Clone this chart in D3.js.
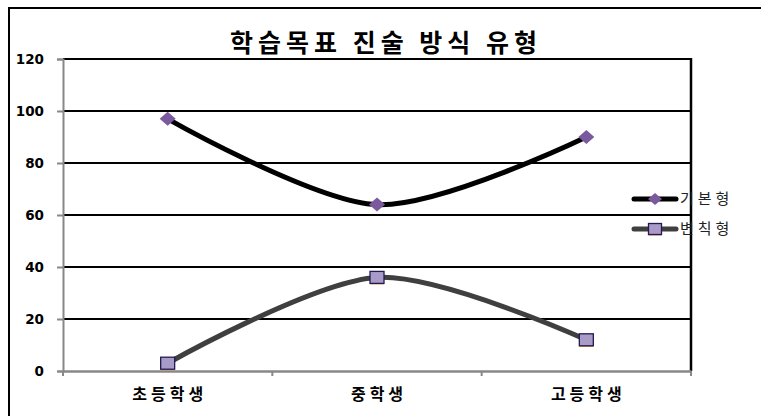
<!DOCTYPE html>
<html>
<head>
<meta charset="utf-8">
<script src="https://cdn.jsdelivr.net/npm/d3@7"></script>
<style>
  body { margin: 0; background: #fff; }
</style>
</head>
<body>
<script>
// chart data
var categories = ["초등학생", "중학생", "고등학생"]
var seriesNames = ["기본형", "변칙형"]
var basicValues = [97, 64, 90]
var irregularValues = [3, 36, 12]
var yTicks = [0, 20, 40, 60, 80, 100, 120]

var w = 761
var h = 416
// plot area
var plotLeft = 63, plotRight = 691, plotTop = 59, plotBottom = 371

var svg = d3.select("body")
    .append("svg")
    .attr("width", w)
    .attr("height", h)

// outer frame (only top and left visible)
svg.append("path")
    .attr("d", "M9," + h + "V8H" + w)
    .attr("fill", "none")
    .attr("stroke", "#000")
    .attr("stroke-width", 2)

var xBand = d3.scaleBand()
    .domain(categories)
    .range([plotLeft, plotRight])
var x = function(d) { return xBand(d) + xBand.bandwidth() / 2 }

var y = d3.scaleLinear()
    .domain([0, 120])
    .range([plotBottom, plotTop])

// gridlines
svg.selectAll("line.grid")
    .data(yTicks.filter(function(d) { return d > 0 }))
    .enter()
    .append("line")
    .attr("class", "grid")
    .attr("x1", plotLeft)
    .attr("x2", plotRight)
    .attr("y1", function(d) { return y(d) })
    .attr("y2", function(d) { return y(d) })
    .attr("stroke", "#000")
    .attr("stroke-width", 2)

// right border of plot
svg.append("line")
    .attr("x1", plotRight).attr("x2", plotRight)
    .attr("y1", plotTop - 1).attr("y2", plotBottom)
    .attr("stroke", "#000")
    .attr("stroke-width", 2.5)

// y axis
var yAxis = d3.axisLeft(y)
    .tickValues(yTicks)
    .tickSize(6)
    .tickFormat(d3.format("d"))
var gy = svg.append("g")
    .attr("transform", "translate(" + plotLeft + ",0)")
    .call(yAxis)
gy.select(".domain").attr("stroke", "#888").attr("stroke-width", 2)
gy.selectAll(".tick line").attr("stroke", "#888").attr("stroke-width", 2)
gy.selectAll(".tick text")
    .attr("x", -19)
    .attr("font-family", "'DejaVu Sans', Verdana, sans-serif")
    .attr("font-weight", "bold")
    .attr("font-size", 13.5)
    .attr("fill", "#000")

// x axis
var xAxis = d3.axisBottom(xBand)
    .tickSize(0)
    .tickSizeOuter(0)
var gx = svg.append("g")
    .attr("transform", "translate(0," + plotBottom + ")")
    .call(xAxis)
gx.select(".domain").attr("stroke", "#888").attr("stroke-width", 2.5)
gx.selectAll(".tick text")
    .attr("y", 27)
    .attr("dx", 2)
    .attr("dy", "0.1em")
    .attr("font-family", "'Noto Sans CJK KR', sans-serif")
    .attr("font-weight", "bold")
    .attr("font-size", 16)
    .attr("letter-spacing", 4)
    .attr("fill", "#000")
// category boundary ticks
svg.selectAll("line.xtick")
    .data(categories.concat([null]))
    .enter()
    .append("line")
    .attr("class", "xtick")
    .attr("x1", function(d) { return d === null ? plotRight : xBand(d) })
    .attr("x2", function(d) { return d === null ? plotRight : xBand(d) })
    .attr("y1", plotBottom)
    .attr("y2", plotBottom + 5)
    .attr("stroke", "#888")
    .attr("stroke-width", 2)

// smoothed lines
var line = d3.line()
    .x(function(d, i) { return x(categories[i]) })
    .y(function(d) { return y(d) })
    .curve(d3.curveCardinal.tension(0.1))

svg.append("path")
    .datum(irregularValues)
    .attr("d", line)
    .attr("fill", "none")
    .attr("stroke", "#3f3f3f")
    .attr("stroke-width", 5)

svg.append("path")
    .datum(basicValues)
    .attr("d", line)
    .attr("fill", "none")
    .attr("stroke", "#000")
    .attr("stroke-width", 5)

function diamond(g, cx, cy, s) {
    g.append("path")
        .attr("d", "M" + cx + "," + (cy - s) + "L" + (cx + s + 1) + "," + cy + "L" + cx + "," + (cy + s) + "L" + (cx - s - 1) + "," + cy + "Z")
        .attr("fill", "#7a5a9c")
}
function square(g, cx, cy, s) {
    g.append("rect")
        .attr("x", cx - s - 1).attr("y", cy - s + 1)
        .attr("width", 2 * s + 2).attr("height", 2 * s)
        .attr("fill", "#f08020")
    g.append("rect")
        .attr("x", cx - s - 1).attr("y", cy - s)
        .attr("width", 2 * s + 2).attr("height", 2 * s)
        .attr("fill", "#a99bc8")
        .attr("stroke", "#221a55")
        .attr("stroke-width", 1.3)
}

// markers
var markers = svg.append("g")
basicValues.forEach(function(v, i) { diamond(markers, x(categories[i]), y(v), 7) })
irregularValues.forEach(function(v, i) { square(markers, x(categories[i]), y(v), 6) })

// legend
var legend = svg.append("g")
var legendY = [199, 229]
seriesNames.forEach(function(name, i) {
    var ly = legendY[i]
    legend.append("line")
        .attr("x1", 634).attr("x2", 676)
        .attr("y1", ly).attr("y2", ly)
        .attr("stroke", i === 0 ? "#000" : "#3f3f3f")
        .attr("stroke-width", 5)
        .attr("stroke-linecap", "round")
    if (i === 0) diamond(legend, 655, ly, 6)
    else square(legend, 655, ly, 5.5)
    legend.append("text")
        .attr("x", 680)
        .attr("y", ly)
        .attr("dy", "0.36em")
        .text(name)
        .attr("font-family", "'Noto Sans CJK KR', sans-serif")
        .attr("font-size", 15)
        .attr("letter-spacing", 4)
        .attr("fill", "#222")
})

// title
svg.append("text")
    .attr("x", 230)
    .attr("y", 52)
    .attr("textLength", 307)
    .attr("lengthAdjust", "spacing")
    .text("학습목표 진술 방식 유형")
    .attr("font-family", "'Noto Sans CJK KR', sans-serif")
    .attr("font-weight", "bold")
    .attr("font-size", 25)
    .attr("fill", "#000")
</script>
</body>
</html>
